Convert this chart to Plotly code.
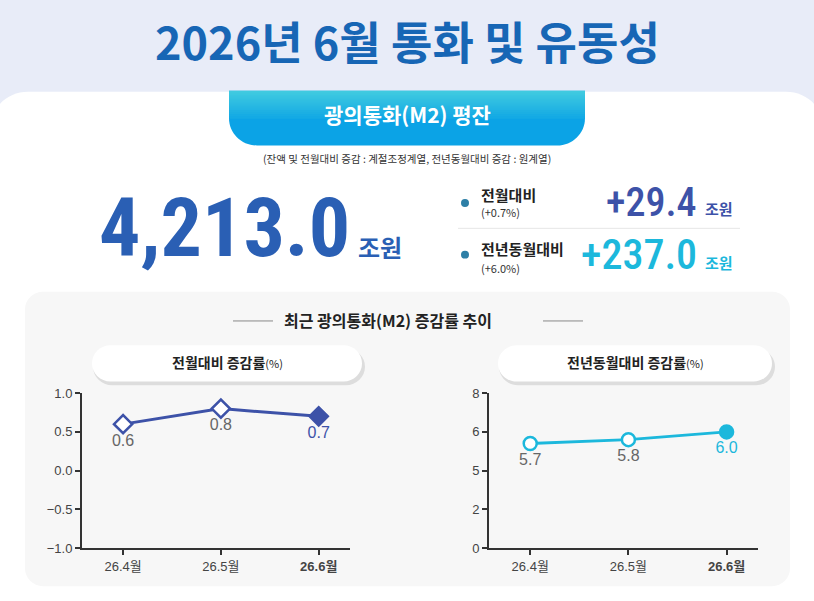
import numpy as np
import plotly.graph_objects as go

W, H = 814, 601

months = ['26.4월', '26.5월', '26.6월']
mom_rate = [0.6, 0.8, 0.7]          # 전월대비 증감률(%)
yoy_rate = [5.7, 5.8, 6.0]          # 전년동월대비 증감률(%)
mom_ticks = [-1.0, -0.5, 0.0, 0.5, 1.0]
yoy_ticks = [0, 2, 5, 6, 8]         # 원본 축 눈금 (비선형)

balance = '4,213.0'
mom_amt, mom_pct = '+29.4', '(+0.7%)'
yoy_amt, yoy_pct = '+237.0', '(+6.0%)'

KR = 'Noto Sans CJK KR'
NUM = 'Liberation Sans, Noto Sans CJK KR'
BLUE = '#3d52a8'
CYAN = '#1cb8dc'


def P(x, y):
    return x / W, 1 - y / H


def rrect(x0, y0, x1, y1, r):
    # r = (좌상, 우상, 우하, 좌하) 픽셀 반경
    tl, tr, br, bl = r
    k = 0.5523
    seg = []

    def pt(x, y):
        a, b = P(x, y)
        return f'{a:.5f},{b:.5f}'
    seg.append('M' + pt(x0 + tl, y0))
    seg.append('L' + pt(x1 - tr, y0))
    seg.append('C' + pt(x1 - tr + k * tr, y0) + ' ' + pt(x1, y0 + tr - k * tr) + ' ' + pt(x1, y0 + tr))
    seg.append('L' + pt(x1, y1 - br))
    seg.append('C' + pt(x1, y1 - br + k * br) + ' ' + pt(x1 - br + k * br, y1) + ' ' + pt(x1 - br, y1))
    seg.append('L' + pt(x0 + bl, y1))
    seg.append('C' + pt(x0 + bl - k * bl, y1) + ' ' + pt(x0, y1 - bl + k * bl) + ' ' + pt(x0, y1 - bl))
    seg.append('L' + pt(x0, y0 + tl))
    seg.append('C' + pt(x0, y0 + tl - k * tl) + ' ' + pt(x0 + tl - k * tl, y0) + ' ' + pt(x0 + tl, y0))
    return ' '.join(seg) + ' Z'


shapes = []


def box(x0, y0, x1, y1, r, fill, opacity=1):
    shapes.append(dict(type='path', xref='paper', yref='paper', layer='below',
                       path=rrect(x0, y0, x1, y1, r), fillcolor=fill,
                       line=dict(width=0), opacity=opacity))


def hline(x0, x1, y, color, width=1):
    a0, b = P(x0, y)
    a1, _ = P(x1, y)
    shapes.append(dict(type='line', xref='paper', yref='paper', layer='below',
                       x0=a0, x1=a1, y0=b, y1=b, line=dict(color=color, width=width)))


def dot(cx, cy, r, color):
    a0, b0 = P(cx - r, cy - r)
    a1, b1 = P(cx + r, cy + r)
    shapes.append(dict(type='circle', xref='paper', yref='paper', layer='below',
                       x0=a0, x1=a1, y0=b1, y1=b0, fillcolor=color, line=dict(width=0)))


def mix(c0, c1, t):
    a = [int(c0[i:i + 2], 16) for i in (1, 3, 5)]
    b = [int(c1[i:i + 2], 16) for i in (1, 3, 5)]
    return 'rgb(%d,%d,%d)' % tuple(round(a[i] + (b[i] - a[i]) * t) for i in range(3))


# 패널
box(-10, 87, W + 10, H + 40, (38, 38, 0, 0), 'white')
box(25, 292, 790, 594, (18, 18, 18, 18), '#f7f7f7')
# 상단 탭 (세로 그라데이션)
box(229, 86, 585, 142, (0, 0, 28, 28), '#0ba3e6')
n = 14
for i in range(n):
    y0 = 86 + i * 2
    box(229, y0, 585, y0 + 2.6, (0, 0, 0, 0), mix('#40cae0', '#14aae4', i / (n - 1)))
# 소제목 알약 + 그림자
for x0, x1 in [(92, 362), (498, 772)]:
    box(x0 + 1, 350, x1 + 3, 388, (19, 19, 19, 19), '#000000', 0.10)
    box(x0, 347, x1, 384, (18.5, 18.5, 18.5, 18.5), 'white')

hline(458, 740, 227, '#e6e6e6', 1)
hline(233, 273, 322, '#888888', 1)
hline(543, 583, 322, '#888888', 1)
dot(465, 201, 4, '#2d7fa6')
dot(465, 254, 4, '#2d7fa6')

ann = []


def text(x, y, s, size, color, family=KR, xanchor='center', yanchor='middle', weight=None):
    a, b = P(x, y)
    font = dict(family=family, size=size, color=color)
    if weight:
        font['weight'] = weight
    ann.append(dict(x=a, y=b, xref='paper', yref='paper', text=s, showarrow=False,
                    xanchor=xanchor, yanchor=yanchor, font=font))


text(407, 34, '<b>2026년 6월 통화 및 유동성</b>', 45, '#1766b5')
text(407, 110, '<b>광의통화(M2) 평잔</b>', 21, 'white')
text(407, 155, '(잔액 및 전월대비 증감 : 계절조정계열, 전년동월대비 증감 : 원계열)', 10.5, '#333333')

NARROW = 'Roboto Condensed, Roboto'
text(224, 227, f'<b>{balance}</b>', 82, '#2a5fb4', NARROW)
text(356, 246, '<b>조원</b>', 24, '#2a5fb4', xanchor='left')

text(479, 192, '<b>전월대비</b>', 15, '#222222', xanchor='left')
text(479, 210, mom_pct, 11, '#333333', xanchor='left')
text(479, 248, '<b>전년동월대비</b>', 15, '#222222', xanchor='left')
text(479, 268, yoy_pct, 11, '#333333', xanchor='left')
text(699, 200, mom_amt, 40, BLUE, NARROW, xanchor='right', weight=500)
text(703, 207, '<b>조원</b>', 15, BLUE, xanchor='left')
text(699, 254, yoy_amt, 42, CYAN, NARROW, xanchor='right', weight=500)
text(703, 262, '<b>조원</b>', 15, CYAN, xanchor='left')

text(388, 321, '<b>최근 광의통화(M2) 증감률 추이</b>', 16, '#222222')
text(227, 364, '<b>전월대비 증감률</b><span style="font-size:11px">(%)</span>', 14, '#222222')
text(635, 364, '<b>전년동월대비 증감률</b><span style="font-size:11px">(%)</span>', 14, '#222222')

fig = go.Figure()

mom_colors = ['#666666'] * (len(months) - 1) + [BLUE]
yoy_colors = ['#666666'] * (len(months) - 1) + [CYAN]
fill_mom = ['white'] * (len(months) - 1) + [BLUE]
fill_yoy = ['white'] * (len(months) - 1) + [CYAN]

fig.add_trace(go.Scatter(
    x=months, y=mom_rate, mode='lines+markers+text',
    text=[f'{v:.1f}' for v in mom_rate], textposition='bottom center',
    textfont=dict(family=NUM, size=16, color=mom_colors),
    line=dict(color=BLUE, width=3),
    marker=dict(symbol='diamond', size=14, color=fill_mom, line=dict(color=BLUE, width=2.5)),
    xaxis='x', yaxis='y', showlegend=False, hoverinfo='skip'))

tick_pos = np.arange(0, 2 * len(yoy_ticks), 2)
fig.add_trace(go.Scatter(
    x=months, y=np.interp(yoy_rate, yoy_ticks, tick_pos), mode='lines+markers+text',
    text=[f'{v:.1f}' for v in yoy_rate], textposition='bottom center',
    textfont=dict(family=NUM, size=16, color=yoy_colors),
    line=dict(color=CYAN, width=3),
    marker=dict(symbol='circle', size=13, color=fill_yoy, line=dict(color=CYAN, width=2.5)),
    xaxis='x2', yaxis='y2', showlegend=False, hoverinfo='skip'))

xlabels = months[:-1] + [f'<b>{months[-1]}</b>']
xax = dict(type='category', range=[-0.42, 2.32], showline=True, linecolor='#333333', linewidth=2,
           ticks='outside', ticklen=5, tickwidth=2, tickcolor='#333333', showgrid=False,
           zeroline=False, tickvals=months, ticktext=xlabels,
           tickfont=dict(family=NUM, size=13, color='#444444'))
yax = dict(showline=True, linecolor='#333333', linewidth=2, ticks='outside', ticklen=5,
           tickwidth=2, tickcolor='#333333', showgrid=False, zeroline=False,
           tickfont=dict(family=NUM, size=13, color='#444444'))

ydom = [1 - 555 / H, 1 - 396 / H]
fig.update_layout(
    width=W, height=H, margin=dict(l=0, r=0, t=0, b=0),
    paper_bgcolor='#e8ecf8', plot_bgcolor='rgba(0,0,0,0)',
    shapes=shapes, annotations=ann,
    xaxis=dict(xax, domain=[82 / W, 350 / W], anchor='y'),
    yaxis=dict(yax, domain=ydom, anchor='x', range=[-1, 1], tickvals=mom_ticks, tickformat='.1f'),
    xaxis2=dict(xax, domain=[489 / W, 758 / W], anchor='y2'),
    yaxis2=dict(yax, domain=ydom, anchor='x2', range=[0, 8], tickvals=tick_pos,
                ticktext=[str(t) for t in yoy_ticks]),
)

page_fix = ("var s=document.body.style;s.margin='0';s.height='601px';s.overflow='hidden';"
            "document.documentElement.style.overflow='hidden';")
fig.write_html('out.html', config={'displayModeBar': False}, post_script=page_fix)
